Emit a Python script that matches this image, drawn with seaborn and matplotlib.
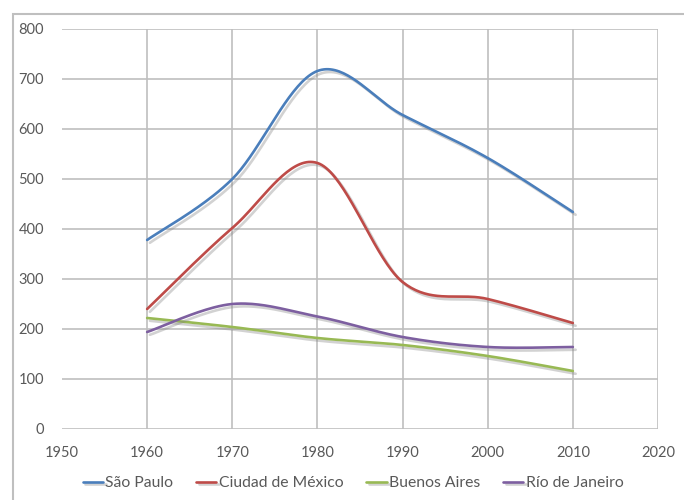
import numpy as np
import pandas as pd
import matplotlib
matplotlib.use("Agg")
import matplotlib.pyplot as plt
import matplotlib.patheffects as pe
from matplotlib.patches import Rectangle
import seaborn as sns

years = [1960, 1970, 1980, 1990, 2000, 2010]
sao_paulo = [378, 500, 716, 628, 542, 434]
ciudad_mexico = [240, 402, 532, 294, 260, 212]
buenos_aires = [222, 204, 182, 168, 146, 116]
rio_janeiro = [194, 250, 225, 184, 164, 164]

series = {
    "São Paulo": sao_paulo,
    "Ciudad de México": ciudad_mexico,
    "Buenos Aires": buenos_aires,
    "Río de Janeiro": rio_janeiro,
}
colors = {
    "São Paulo": "#4A7EBB",
    "Ciudad de México": "#BE4B48",
    "Buenos Aires": "#98B954",
    "Río de Janeiro": "#7D5FA0",
}


def smooth(xs, ys, n=40):
    # Excel-style smoothed line: Bezier segments with Catmull-Rom control points
    p = np.column_stack([xs, ys]).astype(float)
    p_ext = np.vstack([p[0], p, p[-1]])
    out = []
    t = np.linspace(0, 1, n)[:, None]
    for i in range(len(p) - 1):
        p0, p1, p2, p3 = p_ext[i], p_ext[i + 1], p_ext[i + 2], p_ext[i + 3]
        c1 = p1 + (p2 - p0) / 6
        c2 = p2 - (p3 - p1) / 6
        seg = ((1 - t) ** 3) * p1 + 3 * ((1 - t) ** 2) * t * c1 \
            + 3 * (1 - t) * t ** 2 * c2 + t ** 3 * p2
        out.append(seg if i == 0 else seg[1:])
    return np.vstack(out)


frames = []
for name, vals in series.items():
    curve = smooth(years, vals)
    frames.append(pd.DataFrame({"year": curve[:, 0], "value": curve[:, 1],
                                "city": name}))
df = pd.concat(frames, ignore_index=True)

sns.set_style("white")
plt.rcParams["font.family"] = ["Lato", "DejaVu Sans"]

fig = plt.figure(figsize=(6.84, 5.0), dpi=100)
ax = fig.add_axes([62 / 684, 1 - 429 / 500, (658 - 62) / 684, (429 - 29) / 500])

sns.lineplot(data=df, x="year", y="value", hue="city", palette=colors,
             sort=False, estimator=None, units="city", lw=1.9, ax=ax,
             legend=True)
for line in ax.get_lines():
    line.set_path_effects([pe.SimpleLineShadow(offset=(2, -2),
                                               shadow_color="#7F7F7F", alpha=0.35),
                           pe.Normal()])

ax.set_xlim(1950, 2020)
ax.set_ylim(0, 800)
ax.set_xticks(range(1950, 2021, 10))
ax.set_yticks(range(0, 801, 100))
ax.grid(True, color="#BFBFBF", lw=1.2)
ax.get_xgridlines()[0].set_visible(False)
for s in ax.spines.values():
    s.set_visible(False)
ax.tick_params(axis="y", length=0, pad=13, labelsize=10.5, labelcolor="#595959")
ax.tick_params(axis="x", length=0, pad=12, labelsize=10.5, labelcolor="#595959")
ax.set_xlabel("")
ax.set_ylabel("")

handles, labels = ax.get_legend_handles_labels()
ax.legend(handles, labels, loc="center", bbox_to_anchor=(353 / 684, 17 / 500),
          bbox_transform=fig.transFigure, ncol=4, frameon=False,
          fontsize=11.3, handlelength=1.3, handletextpad=0.15,
          columnspacing=1.45, labelcolor="#595959")

fig.add_artist(Rectangle((13 / 684, -0.1), 1.2, 1.1 - 14 / 500,
                         transform=fig.transFigure, fill=False,
                         edgecolor="#BFBFBF", lw=1.5))

fig.savefig("out.png", dpi=100)
